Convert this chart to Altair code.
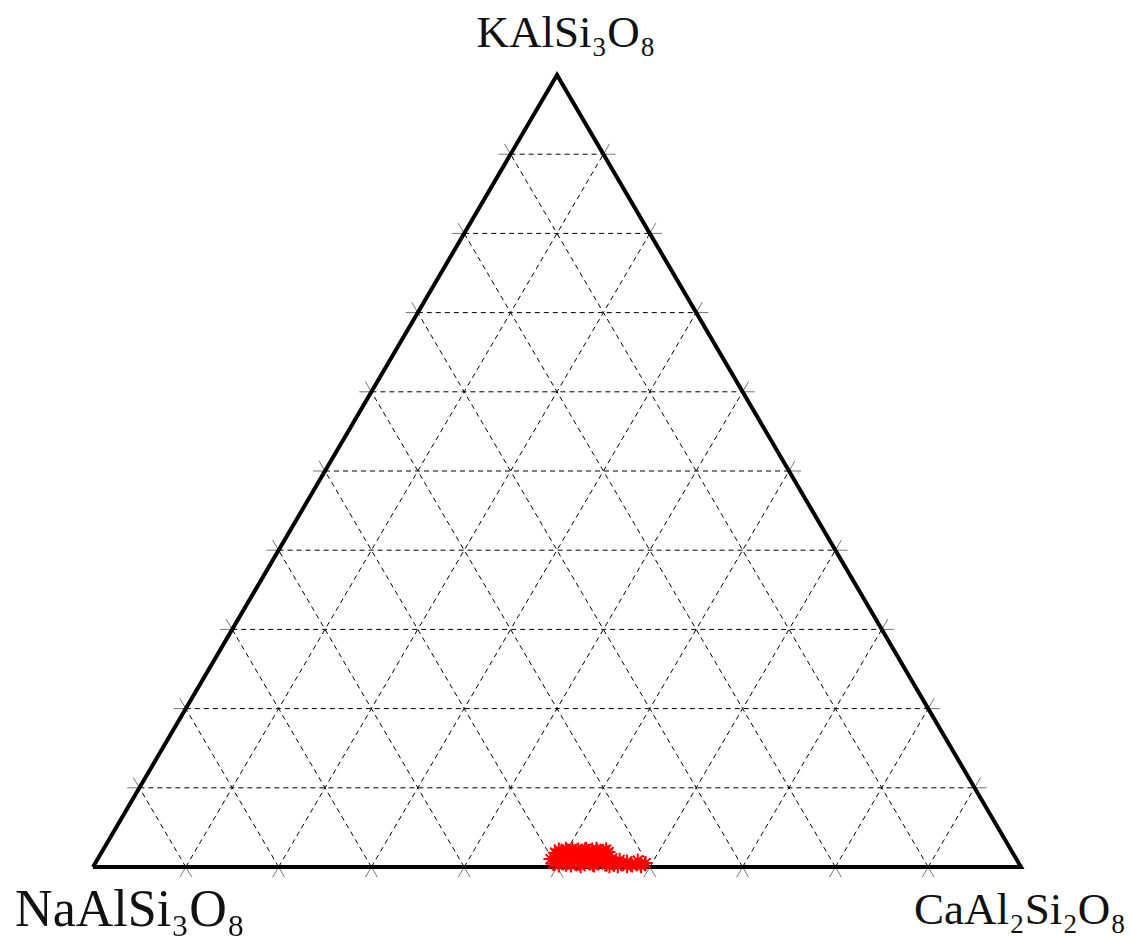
import altair as alt
import pandas as pd

# Ternary corner labels (bottom-left, bottom-right, top)
corner_names = ["NaAlSi₃O₈", "CaAl₂Si₂O₈", "KAlSi₃O₈"]
corner_font = [52, 45, 45]

# Grid levels in percent
grid_levels = [10, 20, 30, 40, 50, 60, 70, 80, 90]

# Feldspar analyses: anorthite (CaAl2Si2O8) and orthoclase (KAlSi3O8) percentages
an_pct = [48.9, 49.3, 49.6, 49.9, 50.0, 50.3, 50.6, 50.9, 51.0, 51.3, 51.5, 51.8,
          52.1, 52.4, 52.6, 52.9, 53.0, 53.2, 53.5, 53.8, 54.0, 54.1, 54.4, 54.7,
          55.0, 55.4, 55.8, 56.3, 56.7, 57.2, 57.8, 58.3, 58.8, 59.3, 49.4, 50.8,
          51.6, 52.2, 53.4, 54.9, 55.2, 56.0, 50.2, 51.9, 53.7,
          49.1, 49.8, 50.5, 51.2, 52.0, 52.7, 53.3, 54.2, 54.6, 48.8, 50.1, 51.4,
          52.5, 53.9, 55.6, 56.5, 57.5, 58.0, 59.0, 49.5, 50.7, 52.8, 53.1]
or_pct = [1.8, 1.2, 0.7, 1.6, 2.1, 1.0, 1.5, 0.6, 2.0, 1.2, 1.7, 0.9,
          1.4, 2.0, 0.5, 1.8, 1.1, 0.5, 1.6, 1.0, 2.0, 0.6, 1.5, 0.9,
          0.5, 1.1, 0.6, 0.9, 0.4, 0.7, 0.3, 0.8, 0.4, 0.5, 0.4, 0.3,
          1.3, 0.4, 1.3, 1.3, 0.3, 0.3, 1.0, 2.2, 0.3,
          2.2, 2.3, 2.3, 2.2, 2.3, 2.2, 2.1, 2.2, 1.9, 1.0, 0.2, 0.2,
          0.1, 0.2, 0.1, 0.1, 0.1, 0.2, 0.1, 1.9, 1.9, 0.8, 2.3]


def tern(an, orr):
    """Map (An, Or) percentages onto the plane of the triangle."""
    return an + orr / 2.0, orr


# Dashed grid segments and the short ticks where they meet the sides
grid_rows = []
tick_rows = []
ext = 1.3
for g in grid_levels:
    # constant Or (horizontal)
    x1, y1 = tern(0, g)
    x2, y2 = tern(100 - g, g)
    grid_rows.append({"x": x1, "y": y1, "x2": x2, "y2": y2})
    tick_rows.append({"x": x1 - ext, "y": y1, "x2": x1, "y2": y1})
    tick_rows.append({"x": x2, "y": y2, "x2": x2 + ext, "y2": y2})
    # constant An (parallel to left side)
    x1, y1 = tern(g, 0)
    x2, y2 = tern(g, 100 - g)
    grid_rows.append({"x": x1, "y": y1, "x2": x2, "y2": y2})
    tick_rows.append({"x": x1 - ext / 2, "y": y1 - ext, "x2": x1, "y2": y1})
    tick_rows.append({"x": x2, "y": y2, "x2": x2 + ext / 2, "y2": y2 + ext})
    # constant Ab (parallel to right side)
    x1, y1 = tern(100 - g, 0)
    x2, y2 = tern(0, 100 - g)
    grid_rows.append({"x": x1, "y": y1, "x2": x2, "y2": y2})
    tick_rows.append({"x": x1 + ext / 2, "y": y1 - ext, "x2": x1, "y2": y1})
    tick_rows.append({"x": x2, "y": y2, "x2": x2 - ext / 2, "y2": y2 + ext})

grid_df = pd.DataFrame(grid_rows)
tick_df = pd.DataFrame(tick_rows)

corners = [tern(0, 0), tern(100, 0), tern(0, 100)]
frame_df = pd.DataFrame(
    [{"x": c[0], "y": c[1], "i": i} for i, c in enumerate(corners + [corners[0]])]
)

pts = [tern(a, o) for a, o in zip(an_pct, or_pct)]
pts_df = pd.DataFrame({"x": [p[0] for p in pts], "y": [p[1] for p in pts]})

label_df = pd.DataFrame({
    "x": [c[0] for c in corners],
    "y": [c[1] for c in corners],
    "name": corner_names,
    "dx": [37, -1, 9],
    "dy": [59, 57, -28],
})

xs = alt.Scale(domain=[0, 100], nice=False, zero=False)
ys = alt.Scale(domain=[0, 100], nice=False, zero=False)

grid = alt.Chart(grid_df).mark_rule(
    color="black", strokeWidth=1, strokeDash=[5, 4]
).encode(
    x=alt.X("x:Q", scale=xs, axis=None),
    y=alt.Y("y:Q", scale=ys, axis=None),
    x2="x2:Q", y2="y2:Q",
)

ticks = alt.Chart(tick_df).mark_rule(color="#777777", strokeWidth=1, clip=False).encode(
    x=alt.X("x:Q", scale=xs, axis=None),
    y=alt.Y("y:Q", scale=ys, axis=None),
    x2="x2:Q", y2="y2:Q",
)

frame = alt.Chart(frame_df).mark_line(
    color="black", strokeWidth=4, strokeJoin="miter", clip=False
).encode(
    x=alt.X("x:Q", scale=xs, axis=None),
    y=alt.Y("y:Q", scale=ys, axis=None),
    order="i:O",
)

asterisk = "M-1,0L1,0M0,-1L0,1M-0.7,-0.7L0.7,0.7M-0.7,0.7L0.7,-0.7"
points = alt.Chart(pts_df).mark_point(
    shape=asterisk, size=200, color="#ff0000", filled=False,
    strokeWidth=2, opacity=1, clip=False
).encode(
    x=alt.X("x:Q", scale=xs, axis=None),
    y=alt.Y("y:Q", scale=ys, axis=None),
)

labels = []
for i, r in label_df.iterrows():
    labels.append(
        alt.Chart(label_df.iloc[[i]]).mark_text(
            font="Liberation Serif", fontSize=corner_font[i], color="#111111",
            align="center", baseline="alphabetic",
            dx=int(r["dx"]), dy=int(r["dy"]), clip=False
        ).encode(
            x=alt.X("x:Q", scale=xs, axis=None),
            y=alt.Y("y:Q", scale=ys, axis=None),
            text="name:N",
        )
    )

chart = alt.layer(grid, ticks, frame, points, *labels).properties(
    width=928, height=792,
    autosize=alt.AutoSizeParams(type="none"),
    padding={"left": 93, "top": 75, "right": 111, "bottom": 70},
    background="white",
).configure_view(stroke=None)

chart.save("out.html", embed_options={"renderer": "svg", "actions": False})
